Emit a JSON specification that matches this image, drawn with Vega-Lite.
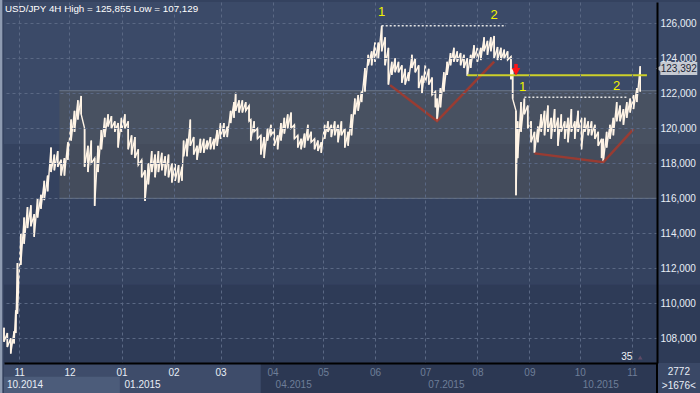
{
  "$schema": "https://vega.github.io/schema/vega-lite/v6.json",
  "width": 653,
  "height": 361,
  "autosize": "none",
  "padding": {"left": 4, "top": 2, "right": 43, "bottom": 30},
  "background": "#34425f",
  "config": {"view": {"stroke": null}},
  "datasets": {
    "price": [
      {"d":"2014-10-23","l":107.8,"h":108.6},{"d":"2014-10-25","l":107.5,"h":108.3},{"d":"2014-10-27","l":107.13,"h":108.0},{"d":"2014-10-29","l":107.7,"h":108.4},{"d":"2014-10-30","l":108.3,"h":109.6},{"d":"2014-10-31","l":109.4,"h":112.3},
      {"d":"2014-11-02","l":112.2,"h":114.0},{"d":"2014-11-04","l":113.4,"h":114.9},{"d":"2014-11-06","l":114.3,"h":115.5},{"d":"2014-11-08","l":114.4,"h":115.6},{"d":"2014-11-10","l":113.8,"h":115.1},{"d":"2014-11-12","l":114.9,"h":116.0},{"d":"2014-11-14","l":115.4,"h":116.2},{"d":"2014-11-16","l":115.9,"h":117.0},{"d":"2014-11-18","l":116.4,"h":117.3},{"d":"2014-11-20","l":117.5,"h":118.9},{"d":"2014-11-22","l":117.6,"h":118.5},{"d":"2014-11-24","l":117.8,"h":118.7},{"d":"2014-11-26","l":117.3,"h":118.2},{"d":"2014-11-28","l":117.3,"h":118.3},{"d":"2014-11-30","l":118.2,"h":119.2},
      {"d":"2014-12-02","l":119.3,"h":120.5},{"d":"2014-12-04","l":119.8,"h":121.0},{"d":"2014-12-06","l":120.5,"h":121.6},{"d":"2014-12-08","l":120.8,"h":121.85},{"d":"2014-12-10","l":117.8,"h":120.0},{"d":"2014-12-12","l":117.5,"h":119.0},{"d":"2014-12-14","l":118.0,"h":119.3},{"d":"2014-12-16","l":115.57,"h":118.3},{"d":"2014-12-18","l":117.5,"h":119.0},{"d":"2014-12-20","l":118.8,"h":119.9},{"d":"2014-12-22","l":119.5,"h":120.6},{"d":"2014-12-24","l":120.1,"h":120.8},{"d":"2014-12-26","l":120.0,"h":120.7},{"d":"2014-12-28","l":119.8,"h":120.4},{"d":"2014-12-30","l":118.9,"h":120.3},
      {"d":"2015-01-01","l":119.8,"h":120.6},{"d":"2015-01-03","l":120.0,"h":120.8},{"d":"2015-01-05","l":118.8,"h":120.4},{"d":"2015-01-07","l":118.5,"h":119.6},{"d":"2015-01-09","l":118.3,"h":119.5},{"d":"2015-01-11","l":117.9,"h":118.8},{"d":"2015-01-13","l":117.2,"h":118.2},{"d":"2015-01-15","l":115.85,"h":117.6},{"d":"2015-01-17","l":116.8,"h":118.0},{"d":"2015-01-19","l":117.5,"h":118.7},{"d":"2015-01-21","l":117.2,"h":118.5},{"d":"2015-01-23","l":117.5,"h":118.7},{"d":"2015-01-25","l":117.6,"h":118.6},{"d":"2015-01-27","l":117.3,"h":118.4},{"d":"2015-01-29","l":117.2,"h":118.5},{"d":"2015-01-31","l":116.9,"h":118.0},
      {"d":"2015-02-02","l":117.0,"h":118.0},{"d":"2015-02-04","l":116.9,"h":117.9},{"d":"2015-02-06","l":117.0,"h":117.8},{"d":"2015-02-07","l":118.4,"h":119.3},{"d":"2015-02-09","l":118.4,"h":119.4},{"d":"2015-02-11","l":119.0,"h":120.5},{"d":"2015-02-13","l":118.5,"h":119.5},{"d":"2015-02-15","l":118.2,"h":119.0},{"d":"2015-02-17","l":118.6,"h":119.4},{"d":"2015-02-19","l":118.6,"h":119.4},{"d":"2015-02-21","l":118.8,"h":119.3},{"d":"2015-02-23","l":118.8,"h":119.5},{"d":"2015-02-25","l":118.8,"h":119.4},{"d":"2015-02-27","l":119.0,"h":119.9},
      {"d":"2015-03-01","l":119.4,"h":120.3},{"d":"2015-03-03","l":119.5,"h":120.3},{"d":"2015-03-05","l":119.5,"h":120.1},{"d":"2015-03-07","l":120.3,"h":121.0},{"d":"2015-03-09","l":120.6,"h":121.5},{"d":"2015-03-10","l":121.0,"h":122.03},{"d":"2015-03-12","l":120.9,"h":121.6},{"d":"2015-03-14","l":120.9,"h":121.6},{"d":"2015-03-16","l":121.0,"h":121.5},{"d":"2015-03-18","l":120.4,"h":121.3},{"d":"2015-03-19","l":119.3,"h":120.5},{"d":"2015-03-21","l":119.8,"h":120.4},{"d":"2015-03-23","l":119.4,"h":120.0},{"d":"2015-03-25","l":118.5,"h":119.6},{"d":"2015-03-27","l":118.3,"h":119.5},{"d":"2015-03-29","l":119.3,"h":120.0},{"d":"2015-03-31","l":119.6,"h":120.2},
      {"d":"2015-04-02","l":119.0,"h":119.9},{"d":"2015-04-04","l":118.8,"h":119.6},{"d":"2015-04-06","l":119.3,"h":120.3},{"d":"2015-04-08","l":119.7,"h":120.6},{"d":"2015-04-10","l":120.0,"h":120.8},{"d":"2015-04-12","l":120.0,"h":120.9},{"d":"2015-04-14","l":119.4,"h":120.2},{"d":"2015-04-16","l":118.9,"h":119.6},{"d":"2015-04-18","l":118.8,"h":119.4},{"d":"2015-04-20","l":118.9,"h":119.7},{"d":"2015-04-22","l":119.3,"h":120.2},{"d":"2015-04-24","l":119.2,"h":119.8},{"d":"2015-04-26","l":118.8,"h":119.4},{"d":"2015-04-28","l":118.7,"h":119.3},{"d":"2015-04-30","l":118.6,"h":119.2},
      {"d":"2015-05-02","l":119.4,"h":120.2},{"d":"2015-05-04","l":119.8,"h":120.4},{"d":"2015-05-06","l":119.5,"h":120.2},{"d":"2015-05-08","l":119.6,"h":120.4},{"d":"2015-05-10","l":119.2,"h":120.2},{"d":"2015-05-12","l":119.6,"h":120.4},{"d":"2015-05-14","l":118.9,"h":120.0},{"d":"2015-05-16","l":119.0,"h":119.8},{"d":"2015-05-18","l":119.6,"h":120.8},{"d":"2015-05-20","l":120.8,"h":121.7},{"d":"2015-05-22","l":121.0,"h":121.9},{"d":"2015-05-24","l":121.5,"h":122.1},{"d":"2015-05-26","l":122.1,"h":123.45},{"d":"2015-05-28","l":123.6,"h":124.2},{"d":"2015-05-30","l":123.6,"h":124.4},
      {"d":"2015-06-01","l":123.8,"h":124.9},{"d":"2015-06-03","l":124.0,"h":124.9},{"d":"2015-06-05","l":124.4,"h":125.86},{"d":"2015-06-07","l":123.6,"h":125.2},{"d":"2015-06-09","l":122.5,"h":124.6},{"d":"2015-06-11","l":123.05,"h":123.8},{"d":"2015-06-13","l":123.2,"h":124.0},{"d":"2015-06-15","l":123.2,"h":123.8},{"d":"2015-06-17","l":122.6,"h":123.6},{"d":"2015-06-19","l":122.5,"h":123.4},{"d":"2015-06-21","l":122.7,"h":123.2},{"d":"2015-06-23","l":123.45,"h":124.2},{"d":"2015-06-25","l":123.2,"h":124.0},{"d":"2015-06-27","l":122.3,"h":123.6},{"d":"2015-06-29","l":122.0,"h":123.0},
      {"d":"2015-07-01","l":122.6,"h":123.6},{"d":"2015-07-03","l":122.5,"h":123.4},{"d":"2015-07-05","l":121.9,"h":122.9},{"d":"2015-07-07","l":121.2,"h":122.1},{"d":"2015-07-08","l":120.41,"h":121.7},{"d":"2015-07-10","l":121.2,"h":122.3},{"d":"2015-07-12","l":122.1,"h":123.2},{"d":"2015-07-14","l":123.05,"h":123.8},{"d":"2015-07-16","l":123.6,"h":124.3},{"d":"2015-07-18","l":123.8,"h":124.6},{"d":"2015-07-20","l":123.8,"h":124.4},{"d":"2015-07-22","l":123.6,"h":124.3},{"d":"2015-07-24","l":123.45,"h":124.2},{"d":"2015-07-26","l":123.0,"h":124.0},{"d":"2015-07-28","l":123.45,"h":124.2},{"d":"2015-07-30","l":124.0,"h":124.75},
      {"d":"2015-08-01","l":123.8,"h":124.6},{"d":"2015-08-03","l":123.9,"h":124.6},{"d":"2015-08-05","l":124.4,"h":125.2},{"d":"2015-08-07","l":124.2,"h":125.0},{"d":"2015-08-09","l":124.4,"h":125.2},{"d":"2015-08-11","l":124.0,"h":125.28},{"d":"2015-08-13","l":123.9,"h":124.65},{"d":"2015-08-15","l":123.9,"h":124.6},{"d":"2015-08-17","l":124.0,"h":124.5},{"d":"2015-08-19","l":123.9,"h":124.4},{"d":"2015-08-21","l":122.8,"h":124.1},{"d":"2015-08-22","l":121.7,"h":123.4},{"d":"2015-08-24","l":116.18,"h":121.0},{"d":"2015-08-25","l":118.3,"h":120.4},{"d":"2015-08-27","l":119.8,"h":121.5},{"d":"2015-08-29","l":120.8,"h":121.7},{"d":"2015-08-31","l":120.0,"h":121.3},
      {"d":"2015-09-02","l":119.2,"h":120.4},{"d":"2015-09-04","l":118.6,"h":119.8},{"d":"2015-09-06","l":119.2,"h":120.1},{"d":"2015-09-08","l":119.8,"h":120.8},{"d":"2015-09-10","l":119.6,"h":121.0},{"d":"2015-09-12","l":119.8,"h":121.3},{"d":"2015-09-14","l":119.4,"h":120.6},{"d":"2015-09-16","l":119.8,"h":121.1},{"d":"2015-09-18","l":119.0,"h":120.6},{"d":"2015-09-20","l":119.8,"h":120.8},{"d":"2015-09-22","l":119.4,"h":120.4},{"d":"2015-09-24","l":119.2,"h":120.6},{"d":"2015-09-26","l":119.8,"h":121.1},{"d":"2015-09-28","l":119.4,"h":120.4},{"d":"2015-09-30","l":119.8,"h":121.0},
      {"d":"2015-10-02","l":118.8,"h":120.6},{"d":"2015-10-04","l":119.8,"h":120.6},{"d":"2015-10-06","l":119.6,"h":120.4},{"d":"2015-10-08","l":119.6,"h":120.4},{"d":"2015-10-10","l":119.4,"h":120.2},{"d":"2015-10-12","l":119.0,"h":119.8},{"d":"2015-10-14","l":118.3,"h":119.4},{"d":"2015-10-15","l":118.07,"h":119.4},{"d":"2015-10-17","l":118.9,"h":119.8},{"d":"2015-10-19","l":119.4,"h":120.2},{"d":"2015-10-21","l":119.6,"h":120.6},{"d":"2015-10-23","l":120.4,"h":121.5},{"d":"2015-10-25","l":120.4,"h":121.3},{"d":"2015-10-27","l":120.2,"h":121.1},{"d":"2015-10-29","l":120.6,"h":121.5},{"d":"2015-10-31","l":120.9,"h":121.7},
      {"d":"2015-11-02","l":121.1,"h":121.9},{"d":"2015-11-04","l":121.5,"h":122.3},{"d":"2015-11-06","l":122.1,"h":123.55}
    ]
  },
  "layer": [
    {
      "data": {"values": [
        {"a":"2014-10-23","b":"2015-12-12","y1":119.1,"y2":127.22,"zone":"upper"},
        {"a":"2014-10-23","b":"2015-12-12","y1":111.06,"y2":119.1,"zone":"middle"},
        {"a":"2014-10-23","b":"2015-12-12","y1":106.59,"y2":111.06,"zone":"lower"},
        {"a":"2014-10-23","b":"2015-03-25","y1":104.8,"y2":106.59,"zone":"navLight"},
        {"a":"2015-03-25","b":"2015-11-16","y1":104.8,"y2":106.59,"zone":"navDark"},
        {"a":"2014-10-23","b":"2014-12-31","y1":104.8,"y2":105.8,"zone":"navYear"},
        {"a":"2015-11-16","b":"2015-12-12","y1":104.8,"y2":106.59,"zone":"navRight"},
        {"a":"2014-10-19","b":"2014-10-22","y1":104.8,"y2":127.5,"zone":"frame"}
      ]},
      "mark": {"type": "rect", "clip": false},
      "encoding": {
        "x": {"field": "a", "type": "temporal",
          "scale": {"domain": [{"year": 2014, "month": 10, "date": 23}, {"year": 2015, "month": 11, "date": 16}], "nice": false},
          "axis": {"orient": "bottom", "title": null, "format": "%m", "tickCount": {"interval": "month", "step": 1},
            "labelColor": {"condition": {"test": "datum.value > 1426377600000", "value": "#6e7e98"}, "value": "#e8eef6"},
            "labelFont": "Liberation Sans", "labelFontSize": 10, "labelPadding": 4, "ticks": false,
            "domainColor": "#000000", "domainWidth": 2, "gridColor": "#5a6884", "gridDash": [3, 3], "gridWidth": 1,
            "zindex": 1, "labelFlush": false, "labelOverlap": false, "labelBound": false}},
        "x2": {"field": "b"},
        "y": {"field": "y1", "type": "quantitative",
          "scale": {"domain": [106.59, 127.22], "nice": false, "zero": false},
          "axis": {"orient": "right", "title": null, "values": [108, 110, 112, 114, 116, 118, 120, 122, 124, 126],
            "labelExpr": "replace(format(datum.value, '.3f'), '.', ',')",
            "labelColor": "#e8eef6", "labelFont": "Liberation Sans", "labelFontSize": 10, "labelPadding": 3, "ticks": false,
            "domainColor": "#000000", "domainWidth": 2, "gridColor": "#5a6884", "gridDash": [3, 3], "gridWidth": 1, "zindex": 1}},
        "y2": {"field": "y2"},
        "color": {"field": "zone", "type": "nominal", "legend": null,
          "scale": {"domain": ["upper", "middle", "lower", "navLight", "navDark", "navYear", "navRight", "frame"],
                    "range": ["#3b4a68", "#34425f", "#2e3b57", "#3e4c6a", "#2c3853", "#4c5c7a", "#3a4866", "#8f9cb2"]}}
      }
    },
    {
      "data": {"values": [{"a":"2014-11-25","b":"2015-11-16","y1":116.0,"y2":122.15}]},
      "mark": {"type": "rect", "color": "#5c5c57", "opacity": 0.4},
      "encoding": {"x": {"field": "a", "type": "temporal"}, "x2": {"field": "b"}, "y": {"field": "y1", "type": "quantitative"}, "y2": {"field": "y2"}}
    },
    {
      "data": {"values": [{"a":"2014-11-25","b":"2015-11-16","y1":116.0},{"a":"2014-11-25","b":"2015-11-16","y1":122.15}]},
      "mark": {"type": "rule", "color": "#6c788a", "strokeWidth": 1},
      "encoding": {"x": {"field": "a", "type": "temporal"}, "x2": {"field": "b"}, "y": {"field": "y1", "type": "quantitative"}}
    },
    {
      "data": {"name": "price"},
      "mark": {"type": "rule", "color": "#fff4e6", "strokeWidth": 1.6},
      "encoding": {"x": {"field": "d", "type": "temporal"}, "y": {"field": "l", "type": "quantitative"}, "y2": {"field": "h"}}
    },
    {
      "data": {"name": "price"},
      "transform": [{"fold": ["h", "l"], "as": ["k", "v"]}],
      "mark": {"type": "line", "color": "#fff4e6", "strokeWidth": 1.4, "strokeJoin": "miter"},
      "encoding": {"x": {"field": "d", "type": "temporal"}, "y": {"field": "v", "type": "quantitative"},
        "order": [{"field": "d", "type": "temporal"}, {"field": "k", "type": "nominal", "sort": "ascending"}]}
    },
    {
      "data": {"values": [{"a":"2015-06-05","b":"2015-08-18","y1":125.86},{"a":"2015-08-29","b":"2015-10-29","y1":121.77}]},
      "mark": {"type": "rule", "color": "#e4e4e4", "strokeWidth": 1.5, "strokeDash": [2, 2]},
      "encoding": {"x": {"field": "a", "type": "temporal"}, "x2": {"field": "b"}, "y": {"field": "y1", "type": "quantitative"}}
    },
    {
      "data": {"values": [
        {"g":"a","d":"2015-06-10","v":122.47},{"g":"a","d":"2015-07-08","v":120.42},{"g":"a","d":"2015-08-11","v":123.81},
        {"g":"b","d":"2015-09-04","v":118.57},{"g":"b","d":"2015-10-15","v":118.06},{"g":"b","d":"2015-11-02","v":119.96}
      ]},
      "mark": {"type": "line", "color": "#a23a2e", "strokeWidth": 2.5, "opacity": 0.9},
      "encoding": {"x": {"field": "d", "type": "temporal"}, "y": {"field": "v", "type": "quantitative"}, "detail": {"field": "g"}}
    },
    {
      "data": {"values": [{"a":"2015-07-26","b":"2015-11-10","y1":123.03}]},
      "mark": {"type": "rule", "color": "#cdd02a", "strokeWidth": 2},
      "encoding": {"x": {"field": "a", "type": "temporal"}, "x2": {"field": "b"}, "y": {"field": "y1", "type": "quantitative"}}
    },
    {
      "data": {"values": [{"a":"2015-08-24","y1":123.68,"y2":123.35}]},
      "mark": {"type": "rule", "color": "#ff1414", "strokeWidth": 3.5},
      "encoding": {"x": {"field": "a", "type": "temporal"}, "y": {"field": "y1", "type": "quantitative"}, "y2": {"field": "y2"}}
    },
    {
      "data": {"values": [{"a":"2015-08-24","y1":123.24}]},
      "mark": {"type": "point", "shape": "triangle-down", "filled": true, "color": "#ff1414", "size": 75, "opacity": 1},
      "encoding": {"x": {"field": "a", "type": "temporal"}, "y": {"field": "y1", "type": "quantitative"}}
    },
    {
      "data": {"values": [
        {"a":"2015-06-05","y1":126.64,"t":"1"},{"a":"2015-08-11","y1":126.47,"t":"2"},
        {"a":"2015-08-28","y1":122.38,"t":"1"},{"a":"2015-10-23","y1":122.44,"t":"2"}
      ]},
      "mark": {"type": "text", "color": "#f2f200", "font": "Liberation Sans", "fontSize": 13, "align": "center", "baseline": "middle"},
      "encoding": {"x": {"field": "a", "type": "temporal"}, "y": {"field": "y1", "type": "quantitative"}, "text": {"field": "t"}}
    },
    {
      "data": {"values": [{"a":"2014-10-23","y1":126.82,"t":"USD/JPY 4H High = 125,855 Low = 107,129"}]},
      "mark": {"type": "text", "color": "#ffffff", "font": "Liberation Sans", "fontSize": 9.8, "align": "left", "baseline": "middle", "dx": 1},
      "encoding": {"x": {"field": "a", "type": "temporal"}, "y": {"field": "y1", "type": "quantitative"}, "text": {"field": "t"}}
    },
    {
      "data": {"values": [
        {"a":"2014-10-23","y1":105.33,"t":"10.2014"},{"a":"2015-01-01","y1":105.33,"t":"01.2015"},
        {"a":"2015-04-01","y1":105.33,"t":"04.2015"},{"a":"2015-07-01","y1":105.33,"t":"07.2015"},{"a":"2015-10-01","y1":105.33,"t":"10.2015"}
      ]},
      "mark": {"type": "text", "font": "Liberation Sans", "fontSize": 10, "align": "left", "baseline": "middle", "dx": 3, "clip": false},
      "encoding": {"x": {"field": "a", "type": "temporal"}, "y": {"field": "y1", "type": "quantitative"}, "text": {"field": "t"},
        "color": {"condition": {"test": "time(datum.a) > 1426377600000", "value": "#6e7e98"}, "value": "#e8eef6"}}
    },
    {
      "data": {"values": [{"a":"2015-10-29","y1":106.93,"t":"35"}]},
      "mark": {"type": "text", "color": "#f0f4f8", "font": "Liberation Sans", "fontSize": 10, "align": "center", "baseline": "middle"},
      "encoding": {"x": {"field": "a", "type": "temporal"}, "y": {"field": "y1", "type": "quantitative"}, "text": {"field": "t"}}
    },
    {
      "data": {"values": [{"a":"2015-11-06","y1":106.9}]},
      "mark": {"type": "point", "shape": "triangle-up", "filled": true, "color": "#5e4a66", "size": 22, "opacity": 1},
      "encoding": {"x": {"field": "a", "type": "temporal"}, "y": {"field": "y1", "type": "quantitative"}}
    },
    {
      "data": {"values": [{"a":"2015-11-18","b":"2015-12-10","y1":123.05,"y2":123.79}]},
      "mark": {"type": "rect", "color": "#c6cad2", "clip": false},
      "encoding": {"x": {"field": "a", "type": "temporal"}, "x2": {"field": "b"}, "y": {"field": "y1", "type": "quantitative"}, "y2": {"field": "y2"}}
    },
    {
      "data": {"values": [{"a":"2015-11-17","y1":123.42}]},
      "mark": {"type": "point", "shape": "triangle-left", "filled": true, "color": "#c6cad2", "size": 45, "opacity": 1, "clip": false},
      "encoding": {"x": {"field": "a", "type": "temporal"}, "y": {"field": "y1", "type": "quantitative"}}
    },
    {
      "data": {"values": [{"a":"2015-11-29","y1":123.41,"t":"123,392"}]},
      "mark": {"type": "text", "color": "#1c2535", "font": "Liberation Sans", "fontSize": 10, "align": "center", "baseline": "middle", "clip": false},
      "encoding": {"x": {"field": "a", "type": "temporal"}, "y": {"field": "y1", "type": "quantitative"}, "text": {"field": "t"}}
    },
    {
      "data": {"values": [{"a":"2015-11-29","y1":106.07,"t":"2772"},{"a":"2015-11-29","y1":105.27,"t":">1676<"}]},
      "mark": {"type": "text", "color": "#e8eef6", "font": "Liberation Sans", "fontSize": 10, "align": "center", "baseline": "middle", "clip": false},
      "encoding": {"x": {"field": "a", "type": "temporal"}, "y": {"field": "y1", "type": "quantitative"}, "text": {"field": "t"}}
    },
    {
      "data": {"values": [{"a":"2015-11-16","y1":104.8,"y2":106.59}]},
      "mark": {"type": "rule", "color": "#000000", "strokeWidth": 2, "clip": false},
      "encoding": {"x": {"field": "a", "type": "temporal"}, "y": {"field": "y1", "type": "quantitative"}, "y2": {"field": "y2"}}
    }
  ]
}
